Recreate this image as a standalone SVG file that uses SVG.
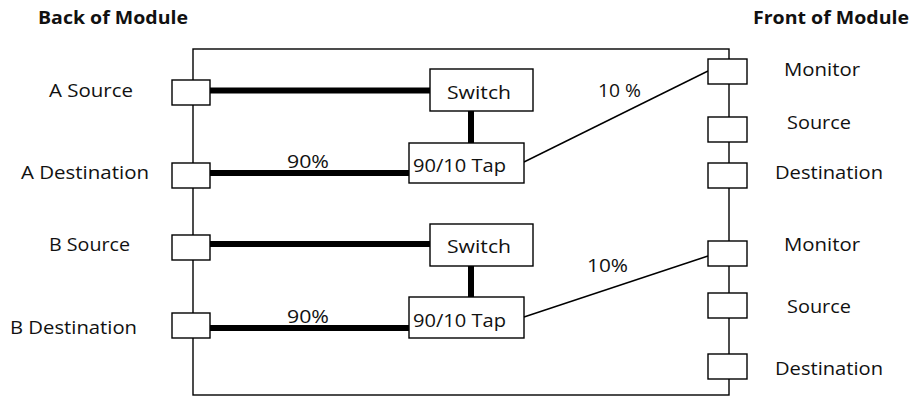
<svg xmlns="http://www.w3.org/2000/svg" width="914" height="398" viewBox="0 0 914 398">
<style>
.t{font-family:"Open Sans","Liberation Sans",sans-serif;font-size:18px;fill:#111}
.b{font-weight:bold}
.box{fill:#fff;stroke:#000;stroke-width:1.4}
.thin{stroke:#000;stroke-width:1.4;fill:none}
.thick{stroke:#000;stroke-width:6;fill:none}
</style>
<rect x="0" y="0" width="914" height="398" fill="#fff"/>
<rect id="module" class="thin" x="193" y="49" width="536" height="346"/>
<text class="t b" x="38" y="24" textLength="150" lengthAdjust="spacingAndGlyphs">Back of Module</text>
<text class="t b" x="753" y="24" textLength="156" lengthAdjust="spacingAndGlyphs">Front of Module</text>
<g id="connectors">
<line class="thick" x1="210" y1="90.5" x2="430" y2="90.5"/>
<line class="thick" x1="210" y1="173" x2="409" y2="173"/>
<line class="thick" x1="471" y1="111" x2="471" y2="143"/>
<line class="thick" x1="210" y1="244" x2="430" y2="244"/>
<line class="thick" x1="210" y1="328" x2="409" y2="328"/>
<line class="thick" x1="471" y1="266" x2="471" y2="297"/>
<line class="thin" x1="524" y1="162" x2="708" y2="71"/>
<line class="thin" x1="524" y1="317" x2="708" y2="256"/>
<text class="t" x="287" y="168" textLength="42" lengthAdjust="spacingAndGlyphs">90%</text>
<text class="t" x="287" y="323" textLength="42" lengthAdjust="spacingAndGlyphs">90%</text>
<text class="t" x="598" y="97" textLength="43" lengthAdjust="spacingAndGlyphs">10 %</text>
<text class="t" x="587" y="272" textLength="41" lengthAdjust="spacingAndGlyphs">10%</text>
</g>
<g id="a-source"><rect class="box" x="172" y="80" width="38" height="25"/><text class="t" x="49" y="97" textLength="84" lengthAdjust="spacingAndGlyphs">A Source</text></g>
<g id="a-destination"><rect class="box" x="172" y="163" width="38" height="25"/><text class="t" x="21" y="179" textLength="128" lengthAdjust="spacingAndGlyphs">A Destination</text></g>
<g id="b-source"><rect class="box" x="172" y="235" width="38" height="25"/><text class="t" x="49" y="251" textLength="81" lengthAdjust="spacingAndGlyphs">B Source</text></g>
<g id="b-destination"><rect class="box" x="172" y="313" width="38" height="25"/><text class="t" x="10" y="334" textLength="127" lengthAdjust="spacingAndGlyphs">B Destination</text></g>
<g id="switch-a"><rect class="box" x="430" y="69" width="103" height="42"/><text class="t" x="447" y="99" textLength="64" lengthAdjust="spacingAndGlyphs">Switch</text></g>
<g id="tap-a"><rect class="box" x="409" y="143" width="115" height="40"/><text class="t" x="413" y="172" textLength="93" lengthAdjust="spacingAndGlyphs">90/10 Tap</text></g>
<g id="switch-b"><rect class="box" x="430" y="224" width="103" height="42"/><text class="t" x="447" y="253" textLength="64" lengthAdjust="spacingAndGlyphs">Switch</text></g>
<g id="tap-b"><rect class="box" x="409" y="297" width="115" height="41"/><text class="t" x="413" y="327" textLength="93" lengthAdjust="spacingAndGlyphs">90/10 Tap</text></g>
<g id="monitor-a"><rect class="box" x="708" y="59" width="39" height="25"/><text class="t" x="784" y="76" textLength="76" lengthAdjust="spacingAndGlyphs">Monitor</text></g>
<g id="source-a"><rect class="box" x="708" y="117" width="39" height="25"/><text class="t" x="787" y="129" textLength="64" lengthAdjust="spacingAndGlyphs">Source</text></g>
<g id="destination-a"><rect class="box" x="708" y="163" width="39" height="25"/><text class="t" x="775" y="179" textLength="108" lengthAdjust="spacingAndGlyphs">Destination</text></g>
<g id="monitor-b"><rect class="box" x="708" y="241" width="39" height="25"/><text class="t" x="784" y="251" textLength="76" lengthAdjust="spacingAndGlyphs">Monitor</text></g>
<g id="source-b"><rect class="box" x="708" y="293" width="39" height="25"/><text class="t" x="787" y="313" textLength="64" lengthAdjust="spacingAndGlyphs">Source</text></g>
<g id="destination-b"><rect class="box" x="708" y="354" width="39" height="25"/><text class="t" x="775" y="375" textLength="108" lengthAdjust="spacingAndGlyphs">Destination</text></g>
</svg>
